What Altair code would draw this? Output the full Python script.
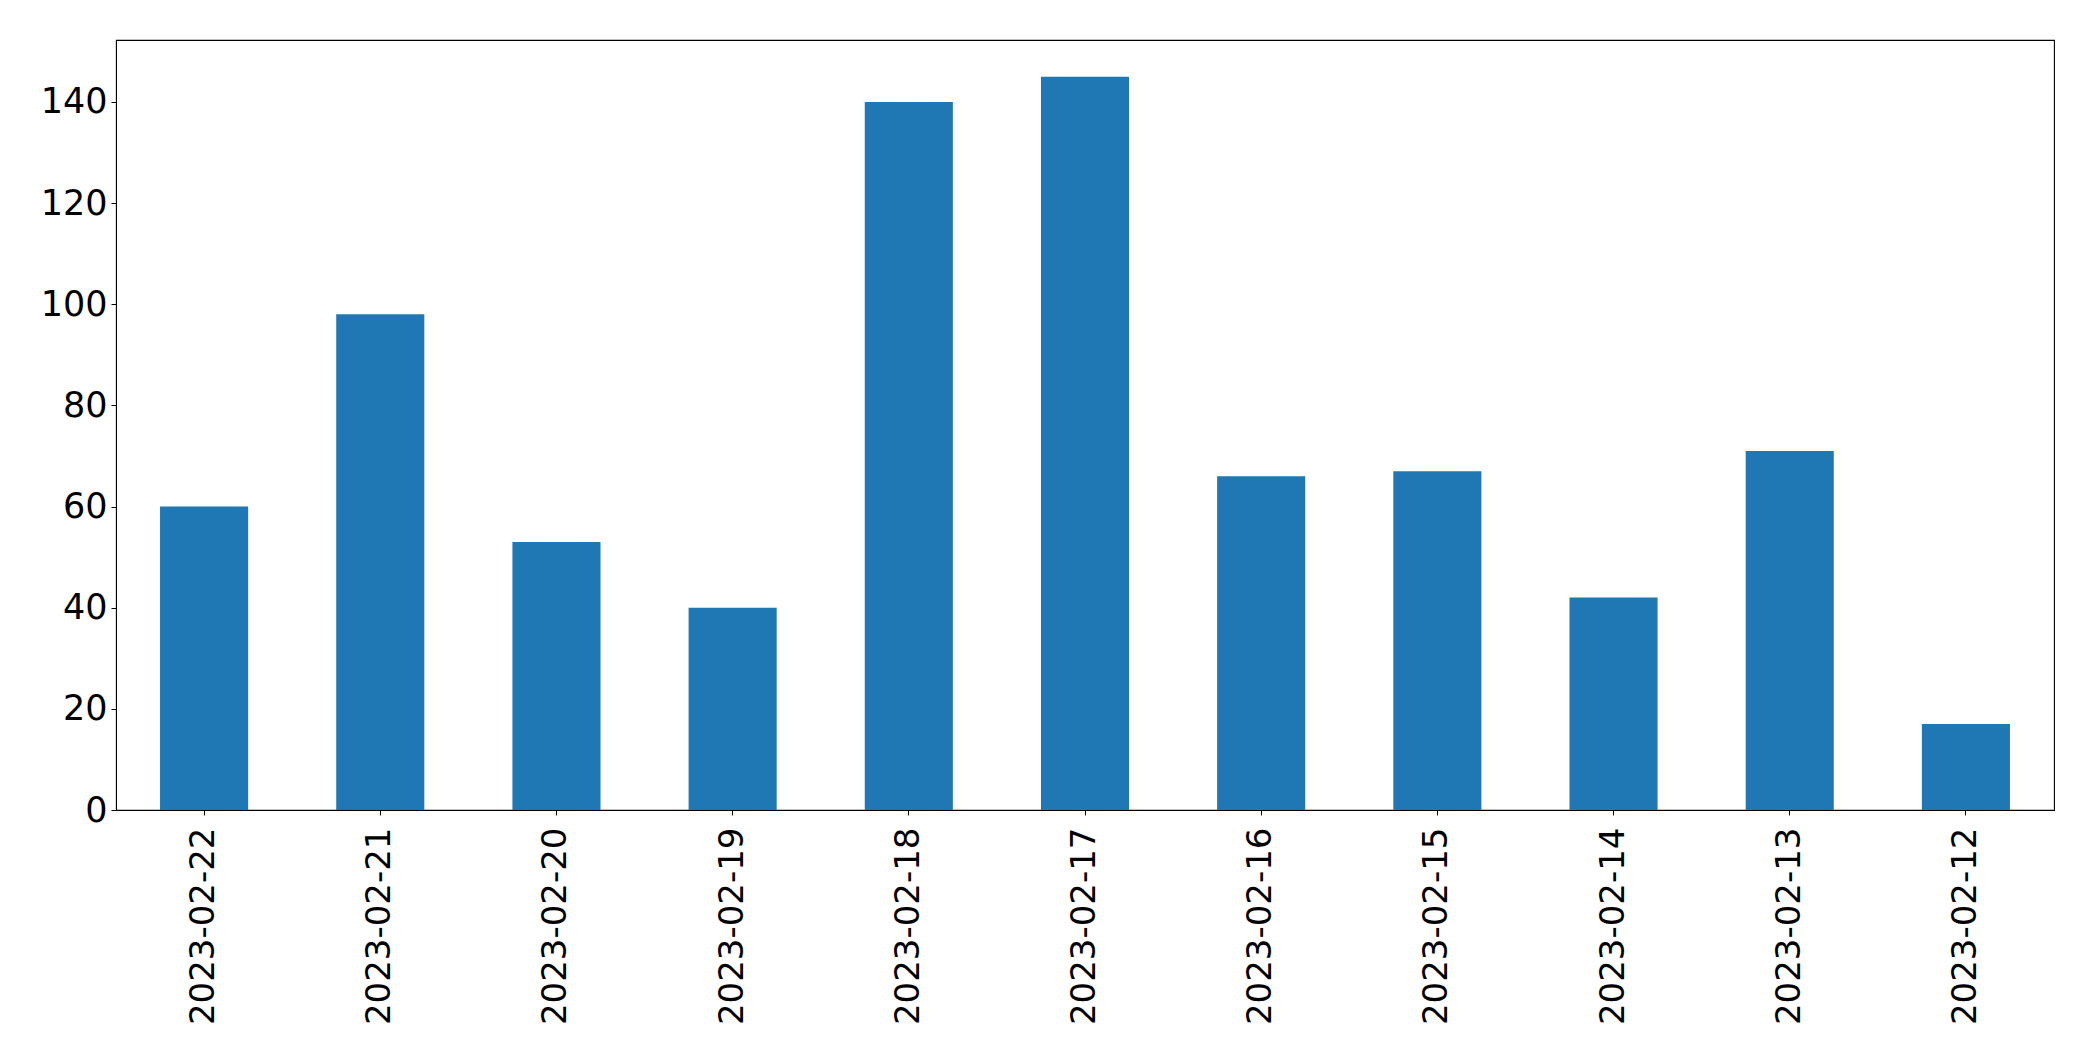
import altair as alt
import pandas as pd

dates = ["2023-02-22", "2023-02-21", "2023-02-20", "2023-02-19", "2023-02-18",
         "2023-02-17", "2023-02-16", "2023-02-15", "2023-02-14", "2023-02-13", "2023-02-12"]
counts = [60, 98, 53, 40, 140, 145, 66, 67, 42, 71, 17]
y_ticks = [0, 20, 40, 60, 80, 100, 120, 140]

df = pd.DataFrame({"date": dates, "count": counts})

chart = alt.Chart(df).mark_bar(color="#1f77b4").encode(
    x=alt.X("date:N", sort=dates,
            scale=alt.Scale(paddingInner=0.5, paddingOuter=0.25),
            axis=alt.Axis(title=None, labelAngle=-90, labelFontSize=34,
                          labelFont="DejaVu Sans", labelColor="black",
                          labelLimit=500,
                          tickColor="black", tickSize=5, labelPadding=12,
                          domainColor="black", grid=False)),
    y=alt.Y("count:Q", scale=alt.Scale(domain=[0, 152.25], nice=False),
            axis=alt.Axis(title=None, values=y_ticks, labelFontSize=35,
                          labelFont="DejaVu Sans", labelColor="black",
                          tickColor="black", tickSize=5, labelPadding=4,
                          domainColor="black", grid=False)),
).properties(
    width=1938, height=770,
    autosize=alt.AutoSizeParams(type="none"),
    padding={"left": 108, "top": 32, "right": 20, "bottom": 230},
).configure_view(stroke="black", strokeWidth=1.1)

chart.save("out.html", embed_options={"renderer": "svg", "actions": False})
